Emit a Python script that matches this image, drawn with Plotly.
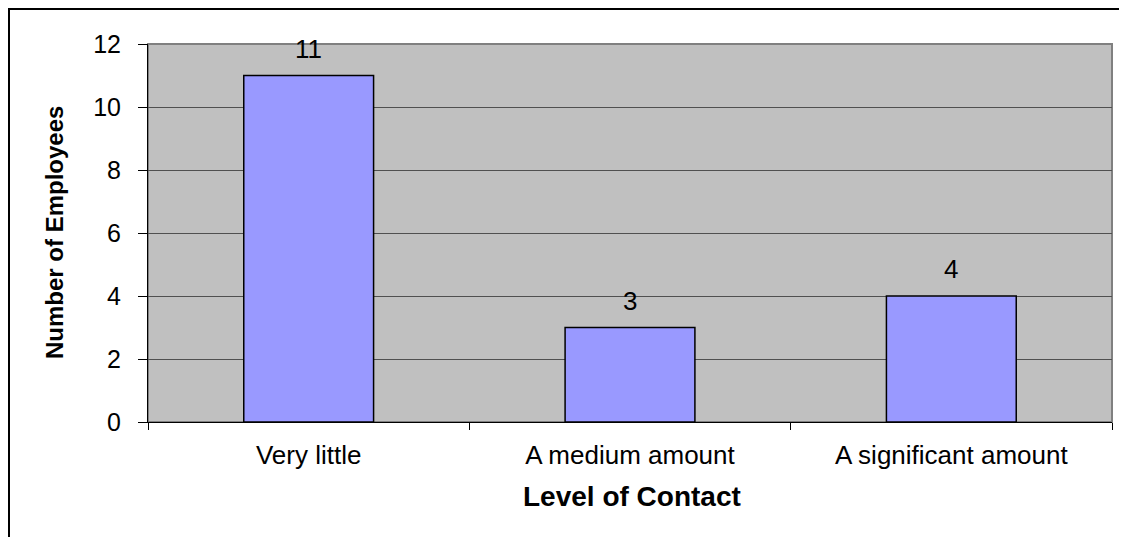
import plotly.graph_objects as go

categories = ["Very little", "A medium amount", "A significant amount"]
employees = [11, 3, 4]
y_ticks = [0, 2, 4, 6, 8, 10, 12]
x_title = "Level of Contact"
y_title = "Number of Employees"

FONT = "Liberation Sans, Arial, sans-serif"
OFF = 8  # default page body margin
W, H = 1127 - OFF, 537 - OFF
# plot area in page pixels: x 148..1112, y 44..422
ML, MR, MT, MB = 148 - OFF, 1127 - 1112, 44 - OFF, 537 - 422
pw = W - ML - MR
ph = H - MT - MB


def px_x(px):  # page pixel -> paper x
    return (px - OFF - ML) / pw


def px_y(py):  # page pixel -> paper y
    return 1 - (py - OFF - MT) / ph


fig = go.Figure()
fig.add_trace(go.Bar(
    x=categories, y=employees,
    marker=dict(color="#9999FF", line=dict(color="#000000", width=1.5)),
    width=0.404,
))

for c, v in zip(categories, employees):
    fig.add_annotation(x=c, y=v, text=str(v), showarrow=False, yshift=27,
                       yanchor="middle", font=dict(family=FONT, size=26, color="#000"))

fig.add_annotation(xref="paper", yref="paper", x=px_x(54), y=0.5, text="<b>" + y_title + "</b>",
                   textangle=-90, showarrow=False, xanchor="center", yanchor="middle",
                   font=dict(family=FONT, size=24, color="#000"))
fig.add_annotation(xref="paper", yref="paper", x=px_x(632), y=px_y(496), text="<b>" + x_title + "</b>",
                   showarrow=False, xanchor="center", yanchor="middle",
                   font=dict(family=FONT, size=28, color="#000"))

# plot-area border (gray) and outer chart frame (black)
fig.add_shape(type="rect", xref="paper", yref="paper", x0=0, x1=1, y0=0, y1=1,
              line=dict(color="#808080", width=2), layer="below")
fig.add_shape(type="rect", xref="paper", yref="paper", x0=px_x(OFF + 1), x1=px_x(1140),
              y0=px_y(560), y1=px_y(OFF + 1), line=dict(color="#000000", width=2), layer="above")

fig.update_layout(
    width=W, height=H,
    margin=dict(l=ML, r=MR, t=MT, b=MB, pad=0),
    paper_bgcolor="#FFFFFF", plot_bgcolor="#C0C0C0",
    showlegend=False,
    font=dict(family=FONT, size=26, color="#000"),
)
fig.update_xaxes(
    type="category", tickson="boundaries", ticks="outside", ticklen=7, tickcolor="#000", tickwidth=1,
    showline=True, linecolor="#000", linewidth=1, showgrid=False,
    tickfont=dict(family=FONT, size=26, color="#000"), ticklabelstandoff=10,
)
fig.update_yaxes(
    range=[0, 12], tickvals=y_ticks, ticks="outside", ticklen=9, tickcolor="#000", tickwidth=1,
    showline=True, linecolor="#000", linewidth=1, showgrid=True, gridcolor="#505050", gridwidth=1,
    zeroline=False, tickfont=dict(family=FONT, size=25, color="#000"), ticklabelstandoff=12,
)

fig.write_html("out.html")
